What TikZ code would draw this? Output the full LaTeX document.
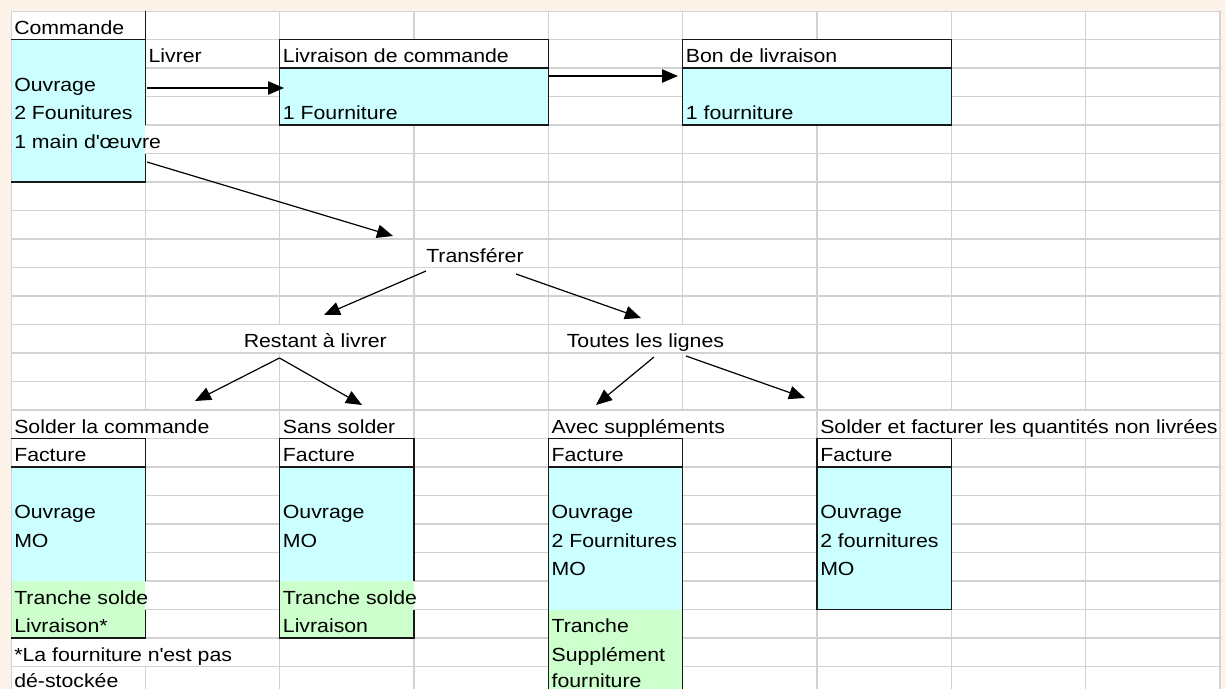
\documentclass[tikz,border=0pt]{standalone}
\usepackage{fontspec}
\setmainfont{Liberation Sans}[FakeStretch=1.12]
\usetikzlibrary{arrows.meta}
\definecolor{sheetbg}{RGB}{252,242,232}
\definecolor{gridgray}{RGB}{210,210,210}
\definecolor{cellcyan}{RGB}{204,255,255}
\definecolor{cellgreen}{RGB}{204,255,204}
\definecolor{edge}{RGB}{24,24,24}

\begin{document}
\begin{tikzpicture}[x=0.75pt,y=-0.75pt,
  declare function={C(\i)=11+134.33*\i; R(\j)=11+28.5*\j;},
  gridline/.style={draw=gridgray,line width=1.1pt},
  edgeline/.style={draw=edge,line width=1.1pt,line join=miter},
  txt/.style={anchor=base west,inner sep=0pt,font=\fontsize{14.25}{17}\selectfont},
  flow/.style={draw=black,line width=0.9pt,-{Triangle[length=12pt,width=10pt]}},
]
% cell text: name, column, row, text
\newcommand\celltext[4]{\node[txt] (#1) at ({C(#2)+3},{R(#3+1)-5.5}) {#4};}
% free text: name, x, row, text
\newcommand\freetext[4]{\node[txt] (#1) at (#2,{R(#3+1)-5.5}) {#4};}

\useasboundingbox (0,0) rectangle (1225,689);
\fill[sheetbg] (0,0) rectangle (1225,689);

\begin{scope}
\clip (11,11) rectangle (1221.5,689);
\fill[white] (11,11) rectangle (1221.5,689);

% worksheet grid
\foreach \k in {0,...,9} \draw[gridline] ({C(\k)},11) -- ({C(\k)},700);
\foreach \m in {0,...,24} \draw[gridline] (11,{R(\m)}) -- (1222,{R(\m)});

% grid lines hidden under overflowing text
\foreach \k/\m in {1/4,2/11,5/11,1/14,5/14,7/14,8/14,1/20,3/20,1/22}
  \fill[white] ({C(\k)-1.6},{R(\m)+0.9}) rectangle ({C(\k)+1.6},{R(\m+1)-0.9});

% cell fills
\fill[white]     ({C(0)},{R(0)})  rectangle ({C(1)},{R(1)});
\fill[cellcyan]  ({C(0)},{R(1)})  rectangle ({C(1)},{R(6)});
\fill[white]     ({C(2)},{R(1)})  rectangle ({C(4)},{R(2)});
\fill[cellcyan]  ({C(2)},{R(2)})  rectangle ({C(4)},{R(4)});
\fill[white]     ({C(5)},{R(1)})  rectangle ({C(7)},{R(2)});
\fill[cellcyan]  ({C(5)},{R(2)})  rectangle ({C(7)},{R(4)});

\fill[white]     ({C(0)},{R(15)}) rectangle ({C(1)},{R(16)});
\fill[cellcyan]  ({C(0)},{R(16)}) rectangle ({C(1)},{R(20)});
\fill[cellgreen] ({C(0)},{R(20)}) rectangle ({C(1)},{R(22)});
\fill[white]     ({C(2)},{R(15)}) rectangle ({C(3)},{R(16)});
\fill[cellcyan]  ({C(2)},{R(16)}) rectangle ({C(3)},{R(20)});
\fill[cellgreen] ({C(2)},{R(20)}) rectangle ({C(3)},{R(22)});
\fill[white]     ({C(4)},{R(15)}) rectangle ({C(5)},{R(16)});
\fill[cellcyan]  ({C(4)},{R(16)}) rectangle ({C(5)},{R(21)});
\fill[cellgreen] ({C(4)},{R(21)}) rectangle ({C(5)},{R(25)});
\fill[white]     ({C(6)},{R(15)}) rectangle ({C(7)},{R(16)});
\fill[cellcyan]  ({C(6)},{R(16)}) rectangle ({C(7)},{R(21)});

% sheet edges
\draw[gridline] ({C(0)},11) -- ({C(0)},700);
\draw[gridline] (11,{R(0)}) -- (1222,{R(0)});

% borders
\draw[edgeline] ({C(1)},{R(0)}) -- ({C(1)},{R(4)});
\draw[edgeline] ({C(1)},{R(5)}) -- ({C(1)},{R(6)}) -- ({C(0)},{R(6)});
\draw[edgeline] ({C(0)},{R(1)}) -- ({C(1)},{R(1)});

\draw[edgeline] ({C(2)},{R(1)}) rectangle ({C(4)},{R(4)});
\draw[edgeline] ({C(2)},{R(2)}) -- ({C(4)},{R(2)});
\draw[edgeline] ({C(5)},{R(1)}) rectangle ({C(7)},{R(4)});
\draw[edgeline] ({C(5)},{R(2)}) -- ({C(7)},{R(2)});

\draw[edgeline] ({C(0)},{R(15)}) -- ({C(1)},{R(15)}) -- ({C(1)},{R(20)});
\draw[edgeline] ({C(1)},{R(21)}) -- ({C(1)},{R(22)}) -- ({C(0)},{R(22)});
\draw[edgeline] ({C(0)},{R(16)}) -- ({C(1)},{R(16)});

\draw[edgeline] ({C(3)},{R(20)}) -- ({C(3)},{R(15)}) -- ({C(2)},{R(15)}) -- ({C(2)},{R(22)}) -- ({C(3)},{R(22)}) -- ({C(3)},{R(21)});
\draw[edgeline] ({C(2)},{R(16)}) -- ({C(3)},{R(16)});

\draw[edgeline] ({C(4)},{R(25)}) -- ({C(4)},{R(15)}) -- ({C(5)},{R(15)}) -- ({C(5)},{R(25)});
\draw[edgeline] ({C(4)},{R(16)}) -- ({C(5)},{R(16)});

\draw[edgeline] ({C(6)},{R(15)}) rectangle ({C(7)},{R(21)});
\draw[edgeline] ({C(6)},{R(16)}) -- ({C(7)},{R(16)});

% texts: order block
\celltext{cmd}{0}{0}{Commande}
\celltext{cmd1}{0}{2}{Ouvrage}
\celltext{cmd2}{0}{3}{2 Founitures}
\celltext{cmd3}{0}{4}{1 main d\textquotesingle œuvre}
\celltext{livrer}{1}{1}{Livrer}
\celltext{livc}{2}{1}{Livraison de commande}
\celltext{livc1}{2}{3}{1 Fourniture}
\celltext{bon}{5}{1}{Bon de livraison}
\celltext{bon1}{5}{3}{1 fourniture}

% texts: transfer choices
\freetext{transf}{426}{8}{Transférer}
\freetext{restant}{243.5}{11}{Restant à livrer}
\freetext{toutes}{566.5}{11}{Toutes les lignes}

% texts: invoices
\celltext{solder}{0}{14}{Solder la commande}
\celltext{sans}{2}{14}{Sans solder}
\celltext{avec}{4}{14}{Avec suppléments}
\celltext{nonliv}{6}{14}{Solder et facturer les quantités non livrées}

\celltext{fa}{0}{15}{Facture}
\celltext{fa1}{0}{17}{Ouvrage}
\celltext{fa2}{0}{18}{MO}
\celltext{fa3}{0}{20}{Tranche solde}
\celltext{fa4}{0}{21}{Livraison*}
\celltext{note1}{0}{22}{*La fourniture n\textquotesingle est pas}
\node[txt] (note2) at ({C(0)+3},687.5) {dé-stockée};

\celltext{fb}{2}{15}{Facture}
\celltext{fb1}{2}{17}{Ouvrage}
\celltext{fb2}{2}{18}{MO}
\celltext{fb3}{2}{20}{Tranche solde}
\celltext{fb4}{2}{21}{Livraison}

\celltext{fc}{4}{15}{Facture}
\celltext{fc1}{4}{17}{Ouvrage}
\celltext{fc2}{4}{18}{2 Fournitures}
\celltext{fc3}{4}{19}{MO}
\celltext{fc4}{4}{21}{Tranche}
\celltext{fc5}{4}{22}{Supplément}
\node[txt] (fc6) at ({C(4)+3},687.5) {fourniture};

\celltext{fd}{6}{15}{Facture}
\celltext{fd1}{6}{17}{Ouvrage}
\celltext{fd2}{6}{18}{2 fournitures}
\celltext{fd3}{6}{19}{MO}
\end{scope}

% connector ends
\coordinate (cmdOut)   at (147,88);
\coordinate (livIn)    at (284,88);
\coordinate (livOut)   at (549,76);
\coordinate (bonIn)    at (678,76);
\coordinate (cmdDown)  at (147,162);
\coordinate (trIn)     at (393,236);
\coordinate (trL)      at (426,271);
\coordinate (trR)      at (516,274);
\coordinate (restIn)   at (324,315);
\coordinate (toutIn)   at (641,318);
\coordinate (restOut)  at (279.5,358);
\coordinate (solderIn) at (195,401);
\coordinate (sansIn)   at (362,405);
\coordinate (toutL)    at (654,357);
\coordinate (toutR)    at (686,356);
\coordinate (avecIn)   at (596,405);
\coordinate (nonIn)    at (805,398);

% connectors
\draw[flow] (cmdOut) -- (livIn);
\draw[flow] (livOut) -- (bonIn);
\draw[flow] (cmdDown) -- (trIn);
\draw[flow] (trL) -- (restIn);
\draw[flow] (trR) -- (toutIn);
\draw[flow] (restOut) -- (solderIn);
\draw[flow] (restOut) -- (sansIn);
\draw[flow] (toutL) -- (avecIn);
\draw[flow] (toutR) -- (nonIn);
\end{tikzpicture}
\end{document}
